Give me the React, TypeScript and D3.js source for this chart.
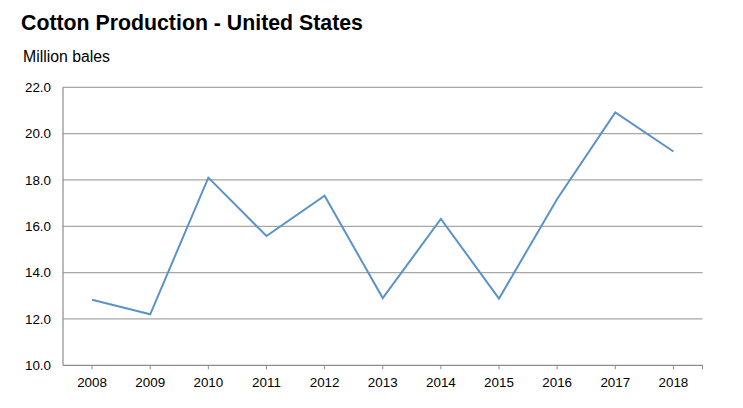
import React from "react";
import * as d3 from "d3";

const years = ["2008","2009","2010","2011","2012","2013","2014","2015","2016","2017","2018"];
const production = [12.83, 12.2, 18.1, 15.58, 17.32, 12.9, 16.32, 12.88, 17.18, 20.92, 19.23];
const yTicks = [10, 12, 14, 16, 18, 20, 22];

const W = 743, H = 408;
const M = { left: 63, right: 702.5, top: 87.3, bottom: 365.3 };

export default function App() {
  const x = d3.scaleBand<string>().domain(years).range([M.left, M.right]);
  const y = d3.scaleLinear().domain([10, 22]).range([M.bottom, M.top]);
  const line = d3.line<number>()
    .x((_, i) => (x(years[i]) as number) + x.bandwidth() / 2)
    .y((d) => y(d));
  const font = "'Liberation Sans', Arial, sans-serif";
  const tickXs = [...years.map((yr) => (x(yr) as number) + x.bandwidth() / 2), M.right];
  return (
    <svg width={W} height={H} style={{ position: "absolute", left: 0, top: 0, background: "#fff" }} fontFamily={font}>
      <text x={21} y={30} fontSize={21.3} fontWeight="bold" fill="#000">Cotton Production - United States</text>
      <text x={23} y={62} fontSize={15.8} fill="#000">Million bales</text>
      {yTicks.map((t) => (
        <g key={t}>
          {t > 10 && <line x1={M.left} x2={M.right} y1={y(t)} y2={y(t)} stroke="#a6a6a6" strokeWidth={1.2} />}
          <text x={51} y={y(t) + 4.8} fontSize={13.4} textAnchor="end" fill="#000">{t.toFixed(1)}</text>
        </g>
      ))}
      <line x1={M.left} x2={M.left} y1={M.top} y2={M.bottom} stroke="#8c8c8c" strokeWidth={1.2} />
      <line x1={M.left} x2={M.right} y1={M.bottom} y2={M.bottom} stroke="#8c8c8c" strokeWidth={1.2} />
      {tickXs.map((tx, i) => (
        <line key={i} x1={tx} x2={tx} y1={M.bottom} y2={M.bottom + 4} stroke="#8c8c8c" strokeWidth={1} />
      ))}
      {years.map((yr) => (
        <text key={yr} x={(x(yr) as number) + x.bandwidth() / 2} y={386.5} fontSize={13.4} textAnchor="middle" fill="#000">{yr}</text>
      ))}
      <path d={line(production) || ""} fill="none" stroke="#5b93c9" strokeWidth={2} strokeLinejoin="miter" />
    </svg>
  );
}
